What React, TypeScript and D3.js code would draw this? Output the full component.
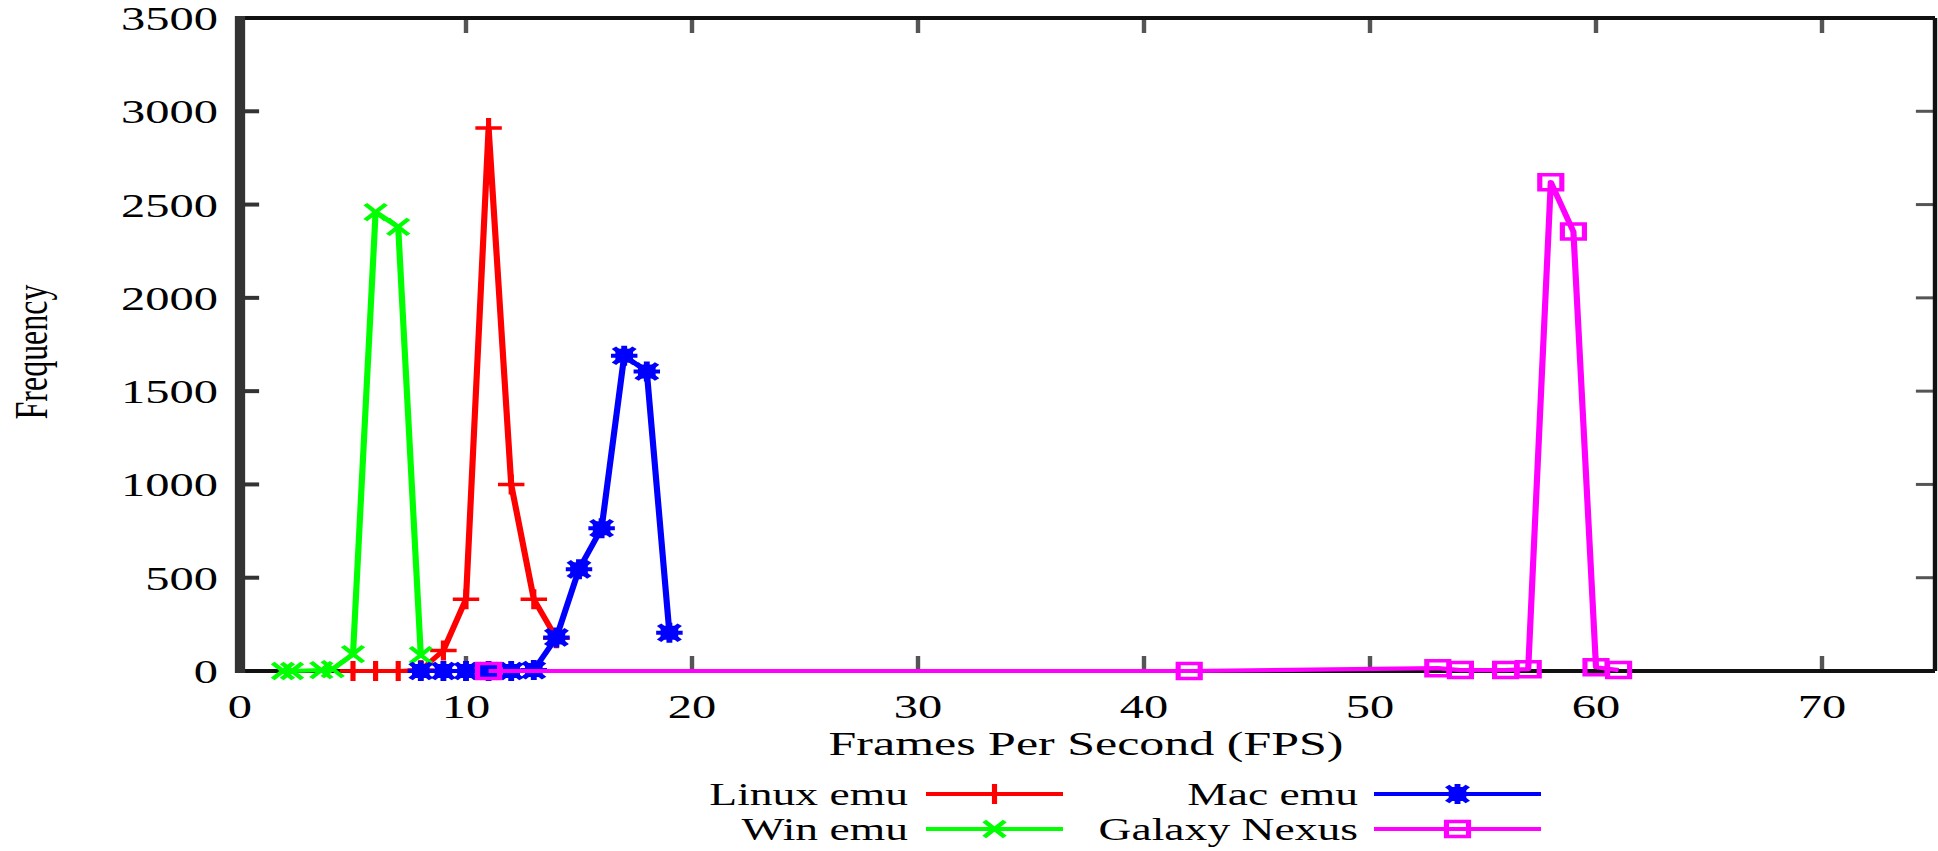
import { useEffect, useRef } from 'react';
import * as d3 from 'd3';

// axis ticks
const xTicks = [0, 10, 20, 30, 40, 50, 60, 70];
const yTicks = [0, 500, 1000, 1500, 2000, 2500, 3000, 3500];

// series (fps bin, frequency)
const linuxFps = [5, 6, 7, 8, 9, 10, 11, 12, 13, 14];
const linuxFreq = [0, 0, 0, 5, 110, 385, 2910, 1000, 385, 175];

const winFps = [1.9, 2.3, 3.6, 4.1, 5, 6, 7, 8];
const winFreq = [0, 0, 5, 10, 90, 2460, 2380, 85];

const macFps = [8, 9, 10, 11, 12, 13, 14, 15, 16, 17, 18, 19];
const macFreq = [0, 0, 0, 0, 0, 5, 180, 545, 765, 1690, 1605, 205];

const nexusFps = [11, 42, 53, 54, 56, 57, 58, 59, 60, 61];
const nexusFreq = [0, 0, 15, 5, 5, 10, 2620, 2355, 20, 5];

const seriesNames = ['Linux emu', 'Win emu', 'Mac emu', 'Galaxy Nexus'];
const seriesColors = ['#ff0000', '#00ff00', '#0000ff', '#ff00ff'];

// the original figure is stretched horizontally
const SX = 1.47;
const FONT = '"Liberation Serif", "Times New Roman", serif';

export default function App() {
  const svgRef = useRef(null);

  useEffect(() => {
    if (!svgRef.current) return;
    const svg = d3.select(svgRef.current);
    svg.selectAll('*').remove();

    const left = 240 / SX;
    const right = 1935 / SX;
    const top = 18;
    const bottom = 671;

    const x = d3.scaleLinear().domain([0, 75]).range([left, right]);
    const y = d3.scaleLinear().domain([0, 3500]).range([bottom, top]);

    const g = svg.append('g').attr('transform', `scale(${SX},1)`);

    // tick marks
    xTicks.forEach(t => {
      g.append('line').attr('x1', x(t)).attr('x2', x(t)).attr('y1', bottom).attr('y2', bottom - 15)
        .attr('stroke', '#555').attr('stroke-width', 3);
      g.append('line').attr('x1', x(t)).attr('x2', x(t)).attr('y1', top).attr('y2', top + 15)
        .attr('stroke', '#555').attr('stroke-width', 3);
      g.append('text').attr('x', x(t)).attr('y', 718).attr('text-anchor', 'middle')
        .style('font-family', FONT).style('font-size', '33px').text(t);
    });
    yTicks.forEach(t => {
      g.append('line').attr('x1', left).attr('x2', left + 13).attr('y1', y(t)).attr('y2', y(t))
        .attr('stroke', '#333').attr('stroke-width', 4);
      g.append('line').attr('x1', right).attr('x2', right - 13).attr('y1', y(t)).attr('y2', y(t))
        .attr('stroke', '#555').attr('stroke-width', 3);
      g.append('text').attr('x', 218 / SX).attr('y', y(t) + 12).attr('text-anchor', 'end')
        .style('font-family', FONT).style('font-size', '33px').text(t);
    });

    // border
    g.append('line').attr('x1', left).attr('x2', right).attr('y1', top).attr('y2', top)
      .attr('stroke', '#111').attr('stroke-width', 4);
    g.append('line').attr('x1', right).attr('x2', right).attr('y1', top).attr('y2', bottom)
      .attr('stroke', '#111').attr('stroke-width', 3);
    g.append('line').attr('x1', left).attr('x2', right).attr('y1', bottom).attr('y2', bottom)
      .attr('stroke', '#111').attr('stroke-width', 4);
    g.append('line').attr('x1', left).attr('x2', left).attr('y1', top - 2).attr('y2', bottom + 2)
      .attr('stroke', '#333').attr('stroke-width', 7);

    // markers
    const markerPath = [
      'M-9,0H9M0,-10V10',
      'M-7,-8L7,8M-7,8L7,-8',
      'M-9,0H9M0,-10V10M-7,-8L7,8M-7,8L7,-8',
      'M-7.5,-7.5H7.5V7.5H-7.5Z',
    ];
    const drawMarker = (sel, i, cx, cy) => {
      sel.append('path').attr('d', markerPath[i])
        .attr('transform', `translate(${cx},${cy})`)
        .attr('fill', 'none')
        .attr('stroke', seriesColors[i])
        .attr('stroke-width', i === 2 ? 4 : 3.5);
      if (i === 2) {
        sel.append('rect').attr('x', cx - 6).attr('y', cy - 7).attr('width', 12).attr('height', 14)
          .attr('fill', seriesColors[i]);
      }
    };

    const allFps = [linuxFps, winFps, macFps, nexusFps];
    const allFreq = [linuxFreq, winFreq, macFreq, nexusFreq];
    const line = d3.line().x(d => x(d[0])).y(d => y(d[1]));

    allFps.forEach((fps, i) => {
      const pts = fps.map((f, j) => [f, allFreq[i][j]]);
      g.append('path').attr('d', line(pts)).attr('fill', 'none')
        .attr('stroke', seriesColors[i]).attr('stroke-width', 4.2)
        .attr('stroke-linejoin', 'round');
      pts.forEach(p => drawMarker(g, i, x(p[0]), y(p[1])));
    });

    // axis titles
    g.append('text').attr('x', 1086 / SX).attr('y', 755).attr('text-anchor', 'middle')
      .style('font-family', FONT).style('font-size', '34px').text('Frames Per Second (FPS)');
    g.append('text').attr('transform', `translate(${47 / SX},352) rotate(-90)`)
      .attr('text-anchor', 'middle')
      .style('font-family', FONT).style('font-size', '32px').text('Frequency');

    // legend: 2 columns x 2 rows
    const legendCols = [
      { textEnd: 908 / SX, x1: 926 / SX, x2: 1063 / SX },
      { textEnd: 1358 / SX, x1: 1374 / SX, x2: 1541 / SX },
    ];
    const legendRows = [794, 829];
    const legendPos = [[0, 0], [0, 1], [1, 0], [1, 1]];
    seriesNames.forEach((name, i) => {
      const col = legendCols[legendPos[i][0]];
      const ry = legendRows[legendPos[i][1]];
      g.append('text').attr('x', col.textEnd).attr('y', ry + 11).attr('text-anchor', 'end')
        .style('font-family', FONT).style('font-size', '31px').text(name);
      g.append('line').attr('x1', col.x1).attr('x2', col.x2).attr('y1', ry).attr('y2', ry)
        .attr('stroke', seriesColors[i]).attr('stroke-width', 4);
      drawMarker(g, i, (col.x1 + col.x2) / 2, ry);
    });
  }, []);

  return (
    <svg
      ref={svgRef}
      width={1938}
      height={851}
      style={{ position: 'absolute', left: 0, top: 0, background: '#fff' }}
    />
  );
}
